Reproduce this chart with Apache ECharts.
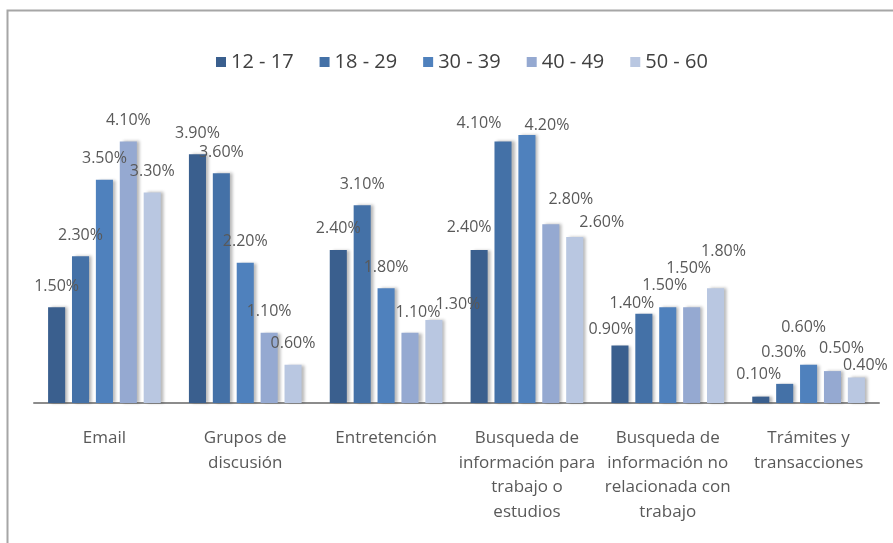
<!DOCTYPE html>
<html>
<head>
<meta charset="utf-8">
<script src="https://cdn.jsdelivr.net/npm/echarts@6/dist/echarts.min.js"></script>
<style>
  html, body { margin: 0; padding: 0; background: #fff; }
  #chart { width: 893px; height: 543px; }
</style>
</head>
<body>
<div id="chart"></div>
<script>
// Internet usage by activity and age group (percent)
const categories = [
  'Email',
  'Grupos de\ndiscusión',
  'Entretención',
  'Busqueda de\ninformación para\ntrabajo o\nestudios',
  'Busqueda de\ninformación no\nrelacionada con\ntrabajo',
  'Trámites y\ntransacciones'
];
const seriesNames = ['12 - 17', '18 - 29', '30 - 39', '40 - 49', '50 - 60'];
const age12to17 = [1.5, 3.9, 2.4, 2.4, 0.9, 0.1];
const age18to29 = [2.3, 3.6, 3.1, 4.1, 1.4, 0.3];
const age30to39 = [3.5, 2.2, 1.8, 4.2, 1.5, 0.6];
const age40to49 = [4.1, 1.1, 1.1, 2.8, 1.5, 0.5];
const age50to60 = [3.3, 0.6, 1.3, 2.6, 1.8, 0.4];
const seriesValues = [age12to17, age18to29, age30to39, age40to49, age50to60];
const colors = ['#3A5F8E', '#4471A7', '#4F81BD', '#95A9D1', '#B9C7E1'];

// Hand-placed value labels that were dragged away from their bars: [series, category, dx, dy]
const labelNudges = [
  [3, 2, 8, 1], [4, 2, 24, 5],
  [0, 3, -10, -1], [1, 3, -24, 3], [2, 3, 20, 11], [3, 3, 20, -4], [4, 3, 27, 6],
  [0, 4, -9, 5], [1, 4, -12, 11], [2, 4, -3, -1], [3, 4, -3, -18], [4, 4, 8, -16],
  [0, 5, -2, -1], [1, 5, -1, -10], [2, 5, -5, -16], [3, 5, 9, -2], [4, 5, 9, 9]
];

const font = '"Open Sans", sans-serif';

function seriesData(si) {
  return seriesValues[si].map((v, ci) => {
    const n = labelNudges.find(e => e[0] === si && e[1] === ci);
    return n ? { value: v, label: { offset: [n[2], n[3]] } } : v;
  });
}

const chart = echarts.init(document.getElementById('chart'), null, { renderer: 'canvas' });

chart.setOption({
  animation: false,
  color: colors,
  graphic: [{
    type: 'rect',
    shape: { x: 7.5, y: 10.5, width: 1000, height: 1000 },
    style: { fill: 'none', stroke: '#A6A6A6', lineWidth: 2 },
    silent: true,
    z: 100
  }],
  legend: {
    top: 47,
    left: 211,
    icon: 'rect',
    itemWidth: 10,
    itemHeight: 10,
    itemGap: 26,
    textStyle: { fontFamily: font, fontSize: 20, color: '#404040' },
    data: seriesNames
  },
  grid: { left: 34, right: 14, top: 84, bottom: 140, containLabel: false },
  xAxis: {
    type: 'category',
    data: categories,
    axisLine: { show: true, lineStyle: { color: '#8C8C8C', width: 2 } },
    axisTick: { show: false },
    axisLabel: {
      interval: 0,
      margin: 23,
      fontFamily: font,
      fontSize: 17,
      lineHeight: 24.5,
      color: '#595959'
    }
  },
  yAxis: {
    type: 'value',
    min: 0,
    max: 5,
    show: false,
    splitLine: { show: false }
  },
  series: seriesNames.map((name, i) => ({
    name: name,
    type: 'bar',
    data: seriesData(i),
    barGap: '40%',
    barCategoryGap: '20%',
    itemStyle: {
      color: colors[i],
      shadowColor: 'rgba(0,0,0,0.28)',
      shadowBlur: 3,
      shadowOffsetX: 3,
      shadowOffsetY: 0
    },
    label: {
      show: true,
      position: 'top',
      distance: 13,
      fontFamily: font,
      fontSize: 16,
      color: '#595959',
      formatter: p => p.value.toFixed(2) + '%'
    }
  }))
});
</script>
</body>
</html>
